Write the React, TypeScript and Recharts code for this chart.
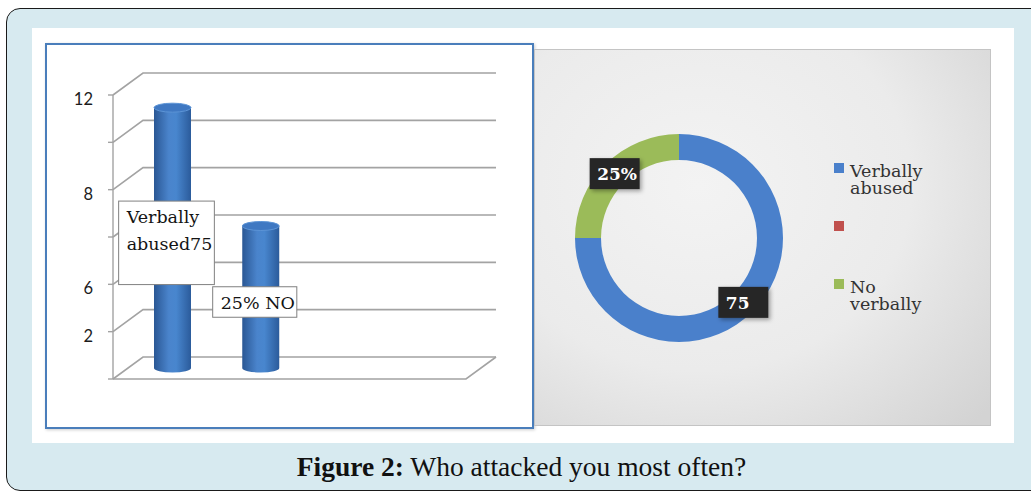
import { BarChart, Bar, XAxis, YAxis, CartesianGrid, LabelList, PieChart, Pie, Cell, Legend } from 'recharts'

// left panel: 3D cylinder bars
const barCategories = ['Verbally abused', 'No verbally']
const barValues = [11, 6]
const barTags = [['Verbally', 'abused75', ''], ['25% NO']]
const yTicks = [0, 2, 4, 6, 8, 10, 12]
const yTickLabels = ['', '2', '6', '', '8', '', '12']

// right panel: donut
const pieNames = ['Verbally abused', '', 'No verbally']
const pieValues = [75, 0, 25]
const pieTags = ['75', '', '25%']
const pieColors = ['#4a80cb', '#c0504d', '#9bbb59']

const barData = barCategories.map((name, i) => ({ name, value: barValues[i], tag: barTags[i].join('|') }))
const pieData = pieNames.map((name, i) => ({ name, value: pieValues[i] }))

// fake 3D depth of the chart box
const DX = 30
const DY = -22
const GRID = '#a3a3a3'
const SERIF = '"DejaVu Serif", serif'

let ctx: CanvasRenderingContext2D | null = null
const measure = (s: string, font: string) => {
  if (!ctx) ctx = document.createElement('canvas').getContext('2d')
  if (!ctx) return s.length * 10
  ctx.font = font
  return ctx.measureText(s).width
}

function GridLine(props: any) {
  const { x1, y1, x2, y, height } = props
  const by = y1 + DY
  const floor = y != null && height != null && Math.abs(y1 - (y + height)) < 1
  return (
    <g>
      <path d={`M${x1},${y1} L${x1 + DX},${by} L${x2 + DX},${by}`} fill="none" stroke={GRID} strokeWidth={1.6} />
      {floor && <path d={`M${x1},${y1} L${x2},${y1} L${x2 + DX},${by}`} fill="none" stroke={GRID} strokeWidth={1.6} />}
    </g>
  )
}

function YTick(props: any) {
  const { x, y, payload } = props
  const label = yTickLabels[yTicks.indexOf(payload.value)]
  return (
    <text x={x} y={y + 10} textAnchor="end" fontFamily="Lato, sans-serif" fontSize={16.5} fill="#1c1c1c">
      {label}
    </text>
  )
}

function Cylinder(props: any) {
  const { x, y, width, height } = props
  if (!height) return null
  const l = x + DX / 2
  const r = l + width
  const top = y + DY / 2
  const bot = y + height + DY / 2
  const rx = width / 2
  const ry = 4.5
  return (
    <g>
      <path d={`M${l},${top} L${l},${bot} A${rx},${ry} 0 0 0 ${r},${bot} L${r},${top} Z`} fill="url(#cylBody)" />
      <ellipse cx={l + rx} cy={top} rx={rx} ry={ry} fill="#3f78c2" stroke="#5c94d6" strokeWidth={1} />
    </g>
  )
}

function BarTag(props: any) {
  const { x, y, width, height, value } = props
  const lines = String(value).split('|')
  const font = `17.5px ${SERIF}`
  const w = Math.max(...lines.map((t) => measure(t, font))) + 10
  const h = lines.length * 26.5 + 4
  const cx = x + width / 2 + 9
  const cy = y + height / 2 - 6
  const left = cx - w / 2
  const top = cy - h / 2
  return (
    <g>
      <rect x={left} y={top} width={w} height={h} fill="#fff" stroke="#808080" strokeWidth={1} />
      <text fontFamily={SERIF} fontSize={17.5} fill="#141414">
        {lines.map((t, i) => (
          <tspan key={i} x={left + 8} y={top + 22 + i * 26.5}>{t}</tspan>
        ))}
      </text>
    </g>
  )
}

const RAD = Math.PI / 180
function PieTag(props: any) {
  const { cx, cy, midAngle, innerRadius, outerRadius, index } = props
  const text = pieTags[index]
  if (!text) return null
  const r = (innerRadius + outerRadius) / 2
  const px = cx + r * Math.cos(-midAngle * RAD)
  const py = cy + r * Math.sin(-midAngle * RAD)
  return (
    <g>
      <rect x={px - 25} y={py - 15.5} width={50} height={31} fill="#262626" filter="url(#tagShadow)" />
      <text x={px - 17.5} y={py + 6.5} fontFamily={SERIF} fontWeight="bold" fontSize={17} fill="#fff">{text}</text>
    </g>
  )
}

// legend keeps the order of the data, not the payload order
function PieLegend() {
  return (
    <div style={{ fontFamily: SERIF, fontSize: 17.5, color: '#333', lineHeight: '17px' }}>
      {pieNames.map((name, i) => (
        <div key={i} style={{ display: 'flex', height: 58 }}>
          <span style={{ width: 10, height: 10, flex: 'none', background: pieColors[i] }} />
          <span style={{ marginLeft: 6, width: 90 }}>{name}</span>
        </div>
      ))}
    </div>
  )
}

export default function App() {
  return (
    <div style={{ position: 'absolute', left: 0, top: 0, width: 1031, height: 492, overflow: 'hidden', background: '#fff' }}>
      {/* outer figure frame */}
      <div style={{ position: 'absolute', left: 6, top: 8, width: 1100, height: 483, border: '1.5px solid #1a1a1a', borderRadius: 14, background: '#d7eaf0', boxSizing: 'border-box' }} />
      <div style={{ position: 'absolute', left: 32, top: 28, width: 982, height: 415, background: '#fff' }} />

      {/* bar chart */}
      <div style={{ position: 'absolute', left: 45, top: 43, width: 489, height: 386, border: '2.5px solid #4a7ebb', boxSizing: 'border-box', boxShadow: '1px 1px 3px rgba(0,0,0,0.2)' }} />
      <div style={{ position: 'absolute', left: 46, top: 44 }}>
        <BarChart width={487} height={384} data={barData} margin={{ top: 51, right: 67, bottom: 49, left: 0 }} barSize={37}>
          <defs>
            <linearGradient id="cylBody" x1="0" x2="1" y1="0" y2="0">
              <stop offset="0" stopColor="#2a5794" />
              <stop offset="0.4" stopColor="#4a84cc" />
              <stop offset="0.6" stopColor="#4886ce" />
              <stop offset="1" stopColor="#2b5b9b" />
            </linearGradient>
          </defs>
          <CartesianGrid vertical={false} horizontal={GridLine} />
          <XAxis dataKey="name" tick={false} tickLine={false} axisLine={false} height={0} padding={{ left: 0, right: 176.5 }} />
          <YAxis
            type="number"
            domain={[0, 12]}
            ticks={yTicks}
            interval={0}
            width={67}
            tickSize={5}
            tickMargin={15}
            tick={YTick}
            tickLine={{ stroke: GRID, strokeWidth: 1.4 }}
            axisLine={{ stroke: GRID, strokeWidth: 1.4 }}
          />
          <Bar dataKey="value" shape={Cylinder} isAnimationActive={false}>
            <LabelList dataKey="tag" content={BarTag} />
          </Bar>
        </BarChart>
      </div>

      {/* donut chart */}
      <div style={{ position: 'absolute', left: 534, top: 49, width: 457, height: 377, border: '1px solid #c4c4c4', boxSizing: 'border-box', background: 'radial-gradient(ellipse 85% 90% at 36% 36%, #f3f3f3 0%, #ebebeb 55%, #d3d3d3 100%)' }} />
      <div style={{ position: 'absolute', left: 534, top: 49 }}>
        <PieChart width={457} height={377} margin={{ top: 0, right: 0, bottom: 0, left: 0 }}>
          <defs>
            <filter id="tagShadow" x="-20%" y="-20%" width="150%" height="160%">
              <feDropShadow dx="2" dy="2" stdDeviation="2" floodColor="#000" floodOpacity="0.35" />
            </filter>
          </defs>
          <Pie
            data={pieData}
            dataKey="value"
            nameKey="name"
            cx={145}
            cy={189}
            innerRadius={78}
            outerRadius={104}
            startAngle={90}
            endAngle={-270}
            stroke="none"
            label={PieTag}
            labelLine={false}
            isAnimationActive={false}
          >
            {pieData.map((_, i) => <Cell key={i} fill={pieColors[i]} />)}
          </Pie>
          <Legend content={PieLegend} layout="vertical" align="right" verticalAlign="top" width={150} wrapperStyle={{ left: 300, top: 114 }} />
        </PieChart>
      </div>

      {/* caption */}
      <div style={{ position: 'absolute', left: 0, top: 452, width: 1043, textAlign: 'center', fontFamily: '"Liberation Serif", serif', fontSize: 27.5, lineHeight: '30px', color: '#111' }}>
        <b>Figure 2:</b> Who attacked you most often?
      </div>
    </div>
  )
}
